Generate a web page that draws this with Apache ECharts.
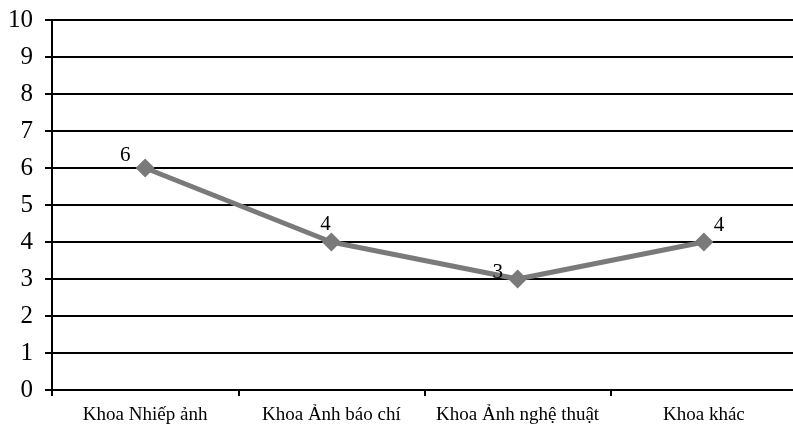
<!DOCTYPE html>
<html><head><meta charset="utf-8">
<script src="https://cdn.jsdelivr.net/npm/echarts@6/dist/echarts.min.js"></script>
<style>html,body{margin:0;padding:0;background:#fff;overflow:hidden}#c{width:797px;height:428px}</style>
</head><body><div id="c"></div>
<script>
const categories = ['Khoa Nhiếp ảnh', 'Khoa Ảnh báo chí', 'Khoa Ảnh nghệ thuật', 'Khoa khác'];
const values = [6, 4, 3, 4];
const yTicks = [0, 1, 2, 3, 4, 5, 6, 7, 8, 9, 10];

const labelOffsets = [[-20, -13], [-6, -18], [-20, -7], [15, -17]];
const font = '"Liberation Serif", "DejaVu Serif", serif';

const chart = echarts.init(document.getElementById('c'));
chart.setOption({
  animation: false,
  backgroundColor: '#fff',
  grid: { left: 52, right: 0, top: 20, bottom: 38, containLabel: false },
  xAxis: {
    type: 'category', data: categories, boundaryGap: true,
    axisLine: { lineStyle: { color: '#000', width: 2 } },
    axisTick: { show: true, interval: 0, length: 6, lineStyle: { color: '#000', width: 2 } },
    axisLabel: { interval: 0, hideOverlap: false, color: '#000', fontFamily: font, fontSize: 19, margin: 16 },
    splitLine: { show: false }
  },
  yAxis: {
    type: 'value', min: yTicks[0], max: yTicks[yTicks.length - 1], interval: 1,
    axisLine: { show: true, lineStyle: { color: '#000', width: 2 } },
    axisTick: { show: true, length: 7, lineStyle: { color: '#000', width: 2 } },
    axisLabel: { color: '#000', fontFamily: font, fontSize: 25, margin: 19 },
    splitLine: { show: true, lineStyle: { color: '#000', width: 2 } }
  },
  series: [{
    type: 'line',
    data: values.map((v, i) => ({
      value: v,
      label: { offset: labelOffsets[i] }
    })),
    symbol: 'diamond', symbolSize: 19,
    lineStyle: { color: '#7a7a7a', width: 5 },
    itemStyle: { color: '#7a7a7a' },
    label: { show: true, position: 'inside', color: '#000', fontFamily: font, fontSize: 21 },
    z: 3
  }]
});
</script></body></html>
